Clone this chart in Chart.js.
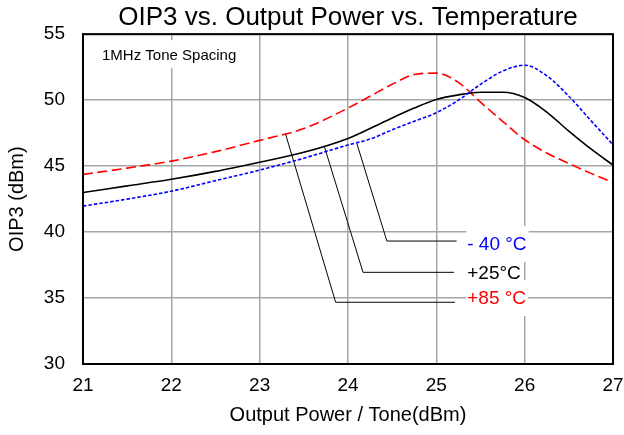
<!DOCTYPE html>
<html>
<head>
<meta charset="utf-8">
<script src="https://cdn.jsdelivr.net/npm/chart.js@4"></script>
<style>
  html, body { margin: 0; padding: 0; background: #fff; }
  #wrap { width: 624px; height: 435px; }
</style>
</head>
<body>
<div id="wrap"><canvas id="oip3-chart"></canvas></div>
<script>
// Values
const outputPower = [21, 21.5, 22, 22.5, 23, 23.5, 24, 24.25, 24.5, 24.75, 25, 25.25, 25.5, 25.75, 26, 26.25, 26.5, 26.75, 27];
const oip3Minus40 = [41.97, 42.5, 43.1, 43.9, 44.7, 45.6, 46.6, 47.05, 47.75, 48.4, 49.05, 50.0, 51.2, 52.2, 52.65, 51.85, 50.3, 48.45, 46.62];
const oip3Plus25 = [43.0, 43.5, 44.0, 44.6, 45.3, 46.05, 47.1, 47.85, 48.65, 49.4, 50.05, 50.4, 50.6, 50.6, 50.2, 49.1, 47.65, 46.3, 45.08];
const oip3Plus85 = [44.37, 44.85, 45.38, 46.1, 46.95, 47.85, 49.4, 50.3, 51.2, 51.95, 52.05, 51.35, 49.85, 48.4, 47.0, 46.0, 45.2, 44.45, 43.77];

const tempLabels = ['- 40 °C', '+25°C', '+85 °C'];

// leader lines: curve point -> elbow -> end, in data units
const leaderMinus40 = [{ x: 24.1, y: 46.72 }, { x: 24.44, y: 39.32 }, { x: 25.23, y: 39.32 }];
const leaderPlus25 = [{ x: 23.73, y: 46.54 }, { x: 24.17, y: 36.95 }, { x: 25.2, y: 36.95 }];
const leaderPlus85 = [{ x: 23.29, y: 47.5 }, { x: 23.86, y: 34.68 }, { x: 25.21, y: 34.68 }];

const xTicks = [21, 22, 23, 24, 25, 26, 27];
const yTicks = [30, 35, 40, 45, 50, 55];

const FONT = '"Liberation Sans", Arial, sans-serif';
const BLUE = '#0000ff';
const RED = '#ff0000';

const toPoints = (ys) => outputPower.map((x, i) => ({ x: x, y: ys[i] }));

function curve(label, ys, color, dash) {
    return {
        label: label,
        data: toPoints(ys),
        borderColor: color,
        borderWidth: 1.6,
        borderDash: dash,
        pointRadius: 0,
        cubicInterpolationMode: 'monotone',
        fill: false
    };
}

function leader(pts) {
    return {
        data: pts,
        borderColor: '#000',
        borderWidth: 1,
        pointRadius: 0,
        tension: 0,
        fill: false
    };
}

const labelSpots = [
    { text: tempLabels[0], color: BLUE, x: 25.35, y: 39.1 },
    { text: tempLabels[1], color: '#000', x: 25.35, y: 36.95 },
    { text: tempLabels[2], color: RED, x: 25.35, y: 35.0 }
];

const annotations = {
    id: 'annotations',
    afterDatasetsDraw(chart) {
        const ctx = chart.ctx;
        const xs = chart.scales.x, ys = chart.scales.y;
        const area = chart.chartArea;
        ctx.save();

        // temperature labels on white boxes
        ctx.font = '19px ' + FONT;
        ctx.textBaseline = 'middle';
        ctx.textAlign = 'left';
        labelSpots.forEach(l => {
            const px = xs.getPixelForValue(l.x);
            const py = ys.getPixelForValue(l.y);
            const w = ctx.measureText(l.text).width;
            ctx.fillStyle = '#fff';
            ctx.fillRect(px - 1, py - 18, w + 3, 36);
        });
        labelSpots.forEach(l => {
            const px = xs.getPixelForValue(l.x);
            const py = ys.getPixelForValue(l.y);
            ctx.fillStyle = l.color;
            ctx.fillText(l.text, px, py + 1);
        });

        // tone spacing note
        ctx.font = '15px ' + FONT;
        const note = '1MHz Tone Spacing';
        const nx = area.left + 19, ny = area.top + 22;
        const nw = ctx.measureText(note).width;
        ctx.fillStyle = '#fff';
        ctx.fillRect(nx - 3, ny - 16, nw + 6, 28);
        ctx.fillStyle = '#000';
        ctx.fillText(note, nx, ny);

        // frame
        ctx.strokeStyle = '#000';
        ctx.lineWidth = 2;
        ctx.strokeRect(area.left, area.top, area.right - area.left, area.bottom - area.top);
        ctx.restore();
    }
};

new Chart(document.getElementById('oip3-chart'), {
    type: 'line',
    data: {
        datasets: [
            curve('-40°C', oip3Minus40, BLUE, [3.5, 2]),
            curve('+25°C', oip3Plus25, '#000', []),
            curve('+85°C', oip3Plus85, RED, [10, 4.5]),
            leader(leaderMinus40),
            leader(leaderPlus25),
            leader(leaderPlus85)
        ]
    },
    options: {
        responsive: true,
        maintainAspectRatio: false,
        animation: false,
        layout: { padding: 0 },
        plugins: {
            legend: { display: false },
            tooltip: { enabled: false },
            title: {
                display: true,
                fullSize: false,
                text: 'OIP3 vs. Output Power vs. Temperature',
                color: '#000',
                font: { family: FONT, size: 26, weight: 'normal' },
                padding: { top: 2, bottom: 1 }
            }
        },
        scales: {
            x: {
                type: 'linear',
                min: 21,
                max: 27,
                afterBuildTicks: (s) => { s.ticks = xTicks.map(v => ({ value: v })); },
                afterFit: (s) => { s.height = 71; s.paddingLeft = 0; s.paddingRight = 11; },
                ticks: {
                    color: '#000',
                    padding: 10,
                    font: { family: FONT, size: 19 }
                },
                grid: { color: '#a6a6a6', lineWidth: 1.5, drawTicks: false },
                border: { color: '#000', width: 2 },
                title: {
                    display: true,
                    text: 'Output Power / Tone(dBm)',
                    color: '#000',
                    font: { family: FONT, size: 20 },
                    padding: { top: 0, bottom: 8 }
                }
            },
            y: {
                min: 30,
                max: 55,
                afterBuildTicks: (s) => { s.ticks = yTicks.map(v => ({ value: v })); },
                afterFit: (s) => { s.width = 83; },
                ticks: {
                    color: '#000',
                    padding: 18,
                    font: { family: FONT, size: 19 }
                },
                grid: { color: '#a6a6a6', lineWidth: 1.5, drawTicks: false },
                border: { color: '#000', width: 2 },
                title: {
                    display: true,
                    text: 'OIP3 (dBm)',
                    color: '#000',
                    font: { family: FONT, size: 20 },
                    padding: { top: 5, bottom: 0 }
                }
            }
        }
    },
    plugins: [annotations]
});
</script>
</body>
</html>
